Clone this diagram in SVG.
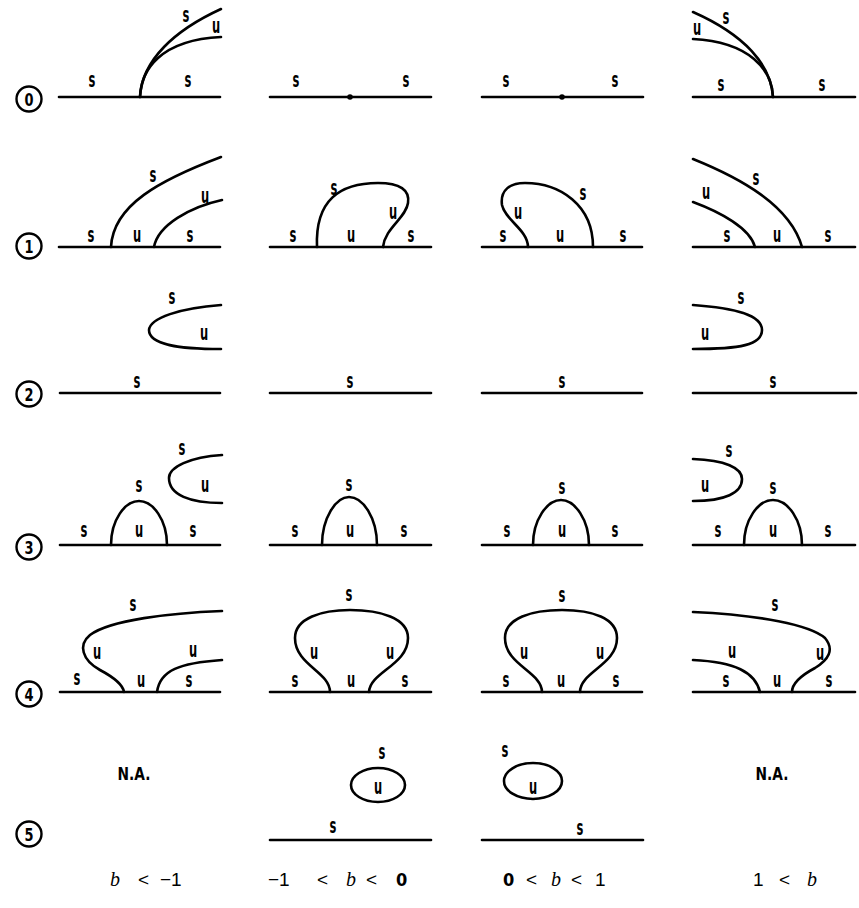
<svg xmlns="http://www.w3.org/2000/svg" width="859" height="908" viewBox="0 0 859 908">
<style>
.c{fill:none;stroke:#000;stroke-width:2.6;stroke-linecap:round;stroke-linejoin:round}
.l{font-family:"DejaVu Sans Condensed","Liberation Sans Narrow","Liberation Sans",sans-serif;font-weight:bold;font-size:16px;text-anchor:middle;fill:#000;transform-box:fill-box;transform-origin:center;transform:scale(0.8,1.3)}
.na{font-family:"DejaVu Sans Condensed","Liberation Sans Narrow","Liberation Sans",sans-serif;font-weight:bold;font-size:17px;text-anchor:middle;fill:#000;transform-box:fill-box;transform-origin:center;transform:scale(0.9,1.05)}
.n{font-family:"DejaVu Sans Condensed","Liberation Sans",sans-serif;font-weight:bold;font-size:16px;text-anchor:middle;fill:#000;transform-box:fill-box;transform-origin:center;transform:scale(0.9,1.1)}
.ci{fill:none;stroke:#000;stroke-width:2.4}
.b{font-family:"Liberation Serif",serif;font-style:italic;font-size:20px;fill:#000}
.t{font-family:"Liberation Sans",sans-serif;font-size:19px;fill:#000}
.tb{font-family:"DejaVu Sans Condensed","Liberation Sans",sans-serif;font-weight:bold;font-size:18px;fill:#000}
</style>
<rect width="859" height="908" fill="#fff"/>

<g id="row-numbers">
<circle class="ci" cx="29" cy="99" r="12.5"/><text class="n" x="29" y="105">0</text>
<circle class="ci" cx="29" cy="246" r="12.5"/><text class="n" x="29" y="252">1</text>
<circle class="ci" cx="29" cy="394" r="12.5"/><text class="n" x="29" y="400">2</text>
<circle class="ci" cx="29" cy="547" r="12.5"/><text class="n" x="29" y="553">3</text>
<circle class="ci" cx="29" cy="694" r="12.5"/><text class="n" x="29" y="700">4</text>
<circle class="ci" cx="29" cy="834" r="12.5"/><text class="n" x="29" y="840">5</text>
</g>

<!-- Row 0 -->
<g id="r0c1">
<path class="c" d="M59,97 H220"/>
<path class="c" d="M140,97 C142,60 175,30 221,9"/>
<path class="c" d="M140,97 C141,70 160,40 221,37"/>
<text class="l" x="92" y="85">s</text><text class="l" x="188" y="85">s</text>
<text class="l" x="186" y="20">s</text><text class="l" x="216" y="31">u</text>
</g>
<g id="r0c2">
<path class="c" d="M270,97 H431"/>
<circle cx="350" cy="97" r="2.8"/>
<text class="l" x="296" y="85">s</text><text class="l" x="406" y="85">s</text>
</g>
<g id="r0c3">
<path class="c" d="M482,97 H643"/>
<circle cx="562" cy="97" r="2.8"/>
<text class="l" x="506" y="85">s</text><text class="l" x="615" y="85">s</text>
</g>
<g id="r0c4">
<path class="c" d="M693,97 H855"/>
<path class="c" d="M773,97 C771,65 745,35 693,12"/>
<path class="c" d="M773,97 C772,70 750,42 693,39"/>
<text class="l" x="726" y="22">s</text><text class="l" x="697" y="33">u</text>
<text class="l" x="721" y="89">s</text><text class="l" x="822" y="89">s</text>
</g>

<!-- Row 1 -->
<g id="r1c1">
<path class="c" d="M59,247 H220"/>
<path class="c" d="M111,247 C113,205 160,180 221,157"/>
<path class="c" d="M154,247 C158,225 190,207 222,200"/>
<text class="l" x="91" y="240">s</text><text class="l" x="137" y="240">u</text><text class="l" x="190" y="240">s</text>
<text class="l" x="153" y="180">s</text><text class="l" x="205" y="201">u</text>
</g>
<g id="r1c2">
<path class="c" d="M270,247 H431"/>
<path class="c" d="M317,247 C315,200 340,183 378,183 C400,183 410,190 408,203 C406,218 385,228 383,247"/>
<text class="l" x="293" y="240">s</text><text class="l" x="351" y="240">u</text><text class="l" x="411" y="240">s</text>
<text class="l" x="334" y="193">s</text><text class="l" x="393" y="217">u</text>
</g>
<g id="r1c3">
<path class="c" d="M482,247 H642"/>
<path class="c" d="M528,247 C528,230 505,220 502,205 C500,190 510,183 525,183 C560,183 593,205 593,247"/>
<text class="l" x="503" y="240">s</text><text class="l" x="560" y="240">u</text><text class="l" x="623" y="240">s</text>
<text class="l" x="518" y="217">u</text><text class="l" x="583" y="198">s</text>
</g>
<g id="r1c4">
<path class="c" d="M693,247 H855"/>
<path class="c" d="M693,159 C740,178 790,205 802,247"/>
<path class="c" d="M693,202 C720,212 750,228 755,247"/>
<text class="l" x="727" y="240">s</text><text class="l" x="777" y="240">u</text><text class="l" x="828" y="240">s</text>
<text class="l" x="756" y="183">s</text><text class="l" x="706" y="197">u</text>
</g>

<!-- Row 2 -->
<g id="r2c1">
<path class="c" d="M60,393 H220"/>
<path class="c" d="M221,305 C180,308 150,318 149,330 C149,345 180,349 221,349"/>
<text class="l" x="137" y="386">s</text>
<text class="l" x="172" y="302">s</text><text class="l" x="204" y="338">u</text>
</g>
<g id="r2c2">
<path class="c" d="M270,393 H431"/>
<text class="l" x="350" y="386">s</text>
</g>
<g id="r2c3">
<path class="c" d="M482,393 H642"/>
<text class="l" x="562" y="386">s</text>
</g>
<g id="r2c4">
<path class="c" d="M693,393 H856"/>
<path class="c" d="M693,305 C735,308 762,315 762,330 C762,345 740,349 693,349"/>
<text class="l" x="773" y="386">s</text>
<text class="l" x="741" y="302">s</text><text class="l" x="705" y="338">u</text>
</g>

<!-- Row 3 -->
<g id="r3c1">
<path class="c" d="M60,545 H220"/>
<path class="c" d="M111,545 C111,520 125,501 139,501 C153,501 167,520 167,545"/>
<path class="c" d="M222,455 C190,457 169,467 169,478 C169,495 190,503 222,503"/>
<text class="l" x="84" y="535">s</text><text class="l" x="139" y="535">u</text><text class="l" x="193" y="535">s</text>
<text class="l" x="139" y="490">s</text>
<text class="l" x="182" y="453">s</text><text class="l" x="205" y="490">u</text>
</g>
<g id="r3c2">
<path class="c" d="M270,545 H431"/>
<path class="c" d="M322,545 C322,518 336,497 349,497 C363,497 377,518 377,545"/>
<text class="l" x="295" y="535">s</text><text class="l" x="350" y="535">u</text><text class="l" x="404" y="535">s</text>
<text class="l" x="349" y="489">s</text>
</g>
<g id="r3c3">
<path class="c" d="M482,545 H642"/>
<path class="c" d="M533,545 C533,520 547,500 561,500 C575,500 589,520 589,545"/>
<text class="l" x="507" y="535">s</text><text class="l" x="562" y="535">u</text><text class="l" x="615" y="535">s</text>
<text class="l" x="562" y="492">s</text>
</g>
<g id="r3c4">
<path class="c" d="M693,545 H855"/>
<path class="c" d="M744,545 C744,520 758,500 773,500 C788,500 802,520 802,545"/>
<path class="c" d="M693,459 C725,460 742,468 742,479 C742,493 725,501 693,501"/>
<text class="l" x="718" y="535">s</text><text class="l" x="773" y="535">u</text><text class="l" x="828" y="535">s</text>
<text class="l" x="773" y="492">s</text>
<text class="l" x="729" y="455">s</text><text class="l" x="705" y="490">u</text>
</g>

<!-- Row 4 -->
<g id="r4c1">
<path class="c" d="M60,692 H220"/>
<path class="c" d="M222,611 C170,613 110,620 90,635 C78,645 82,660 100,670 C115,678 123,685 124,692"/>
<path class="c" d="M222,660 C180,663 160,670 157,692"/>
<text class="l" x="77" y="683">s</text><text class="l" x="141" y="685">u</text><text class="l" x="189" y="685">s</text>
<text class="l" x="97" y="657">u</text><text class="l" x="193" y="655">u</text>
<text class="l" x="133" y="609">s</text>
</g>
<g id="r4c2">
<path class="c" d="M270,692 H431"/>
<path class="c" d="M330,692 C330,672 295,665 295,638 C295,618 322,610 350,610 C380,610 408,618 408,638 C408,665 370,672 369,692"/>
<text class="l" x="295" y="685">s</text><text class="l" x="351" y="685">u</text><text class="l" x="405" y="685">s</text>
<text class="l" x="314" y="657">u</text><text class="l" x="390" y="657">u</text>
<text class="l" x="349" y="599">s</text>
</g>
<g id="r4c3">
<path class="c" d="M482,692 H642"/>
<path class="c" d="M542,692 C542,672 505,665 505,638 C505,618 532,610 562,610 C592,610 617,618 617,638 C617,665 580,672 580,692"/>
<text class="l" x="506" y="685">s</text><text class="l" x="561" y="685">u</text><text class="l" x="616" y="685">s</text>
<text class="l" x="524" y="657">u</text><text class="l" x="600" y="657">u</text>
<text class="l" x="562" y="600">s</text>
</g>
<g id="r4c4">
<path class="c" d="M693,692 H855"/>
<path class="c" d="M693,612 C760,615 810,625 825,638 C835,650 828,660 815,668 C800,676 792,684 792,692"/>
<path class="c" d="M693,660 C735,662 755,672 760,692"/>
<text class="l" x="726" y="685">s</text><text class="l" x="777" y="685">u</text><text class="l" x="829" y="685">s</text>
<text class="l" x="732" y="656">u</text><text class="l" x="820" y="658">u</text>
<text class="l" x="775" y="609">s</text>
</g>

<!-- Row 5 -->
<g id="r5c1">
<text class="na" x="134" y="780">N.A.</text>
</g>
<g id="r5c2">
<path class="c" d="M270,840 H431"/>
<ellipse class="c" cx="378" cy="785" rx="27" ry="17"/>
<text class="l" x="333" y="831">s</text>
<text class="l" x="382" y="757">s</text><text class="l" x="378" y="792">u</text>
</g>
<g id="r5c3">
<path class="c" d="M482,840 H643"/>
<ellipse class="c" cx="533" cy="781" rx="29" ry="18"/>
<text class="l" x="580" y="833">s</text>
<text class="l" x="505" y="755">s</text><text class="l" x="533" y="792">u</text>
</g>
<g id="r5c4">
<text class="na" x="772" y="780">N.A.</text>
</g>

<g id="column-labels">
<text x="0" y="886"><tspan class="b" x="110">b</tspan><tspan class="t" x="138">&lt;</tspan><tspan class="t" x="160">−1</tspan></text>
<text x="0" y="886"><tspan class="t" x="268">−1</tspan><tspan class="t" x="317">&lt;</tspan><tspan class="b" x="346">b</tspan><tspan class="t" x="366">&lt;</tspan><tspan class="tb" x="396">0</tspan></text>
<text x="0" y="886"><tspan class="tb" x="503">0</tspan><tspan class="t" x="526">&lt;</tspan><tspan class="b" x="551">b</tspan><tspan class="t" x="571">&lt;</tspan><tspan class="t" x="595">1</tspan></text>
<text x="0" y="886"><tspan class="t" x="753">1</tspan><tspan class="t" x="779">&lt;</tspan><tspan class="b" x="807">b</tspan></text>
</g>
</svg>
